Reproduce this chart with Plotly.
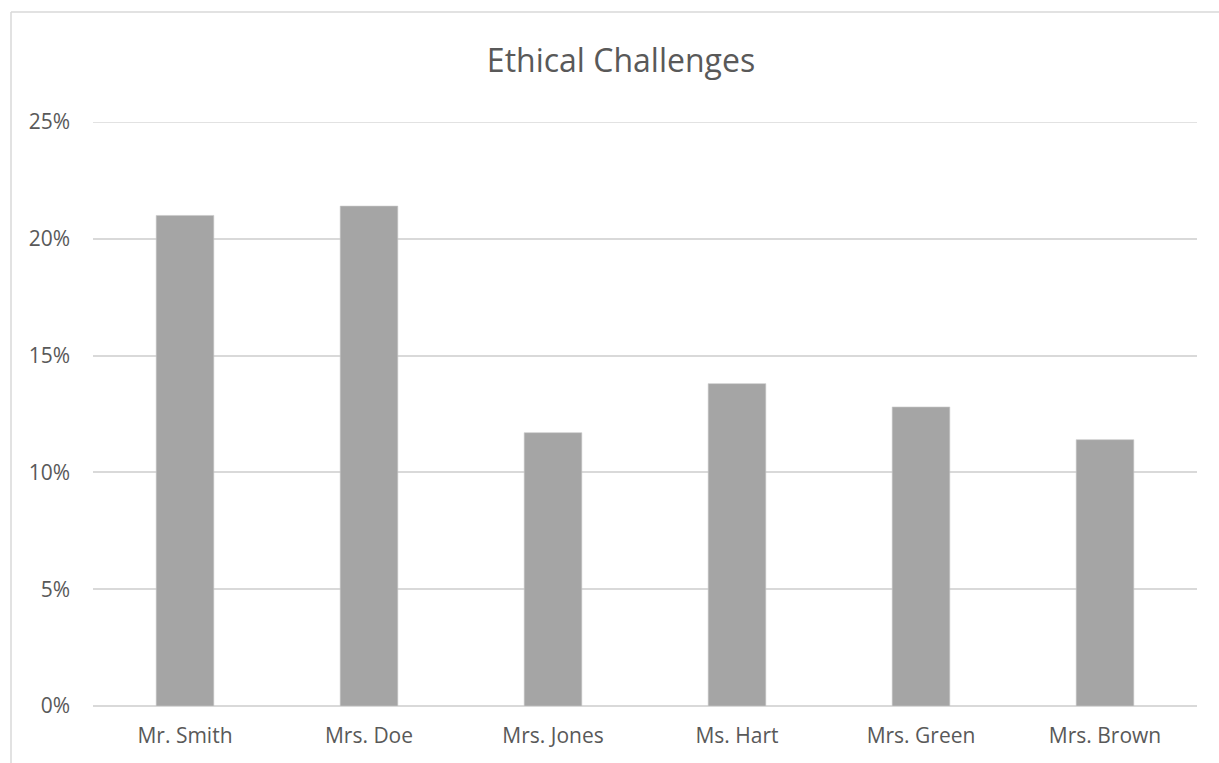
import plotly.graph_objects as go

# Share of ethical challenges reported per teacher
teachers = ["Mr. Smith", "Mrs. Doe", "Mrs. Jones", "Ms. Hart", "Mrs. Green", "Mrs. Brown"]
shares = [0.210, 0.214, 0.117, 0.138, 0.128, 0.114]

y_ticks = [0, 0.05, 0.10, 0.15, 0.20, 0.25]
y_tick_labels = ["0%", "5%", "10%", "15%", "20%", "25%"]

W, H = 1219, 763
L, R, T, B = 93, 22, 122, 57
pw, ph = W - L - R, H - T - B

GRID = "#d9d9d9"
TEXT = "#595959"
FONT = "Open Sans, Liberation Sans, sans-serif"

fig = go.Figure(
    go.Bar(
        x=teachers,
        y=shares,
        width=0.313,
        marker=dict(color="#a5a5a5", line=dict(color="#c8c8c8", width=0.6)),
        hovertemplate="%{x}: %{y:.1%}<extra></extra>",
    )
)

fig.update_layout(
    width=W,
    height=H,
    margin=dict(l=L, r=R, t=T, b=B, pad=0),
    paper_bgcolor="white",
    plot_bgcolor="white",
    showlegend=False,
    font=dict(family=FONT, color=TEXT),
    title=dict(
        text="Ethical Challenges",
        font=dict(family=FONT, size=32, color=TEXT),
        x=621 / W,
        xref="container",
        xanchor="center",
        y=1 - 61 / H,
        yref="container",
        yanchor="middle",
    ),
    xaxis=dict(
        showgrid=False,
        showline=False,
        zeroline=False,
        ticks="",
        tickfont=dict(size=21, color=TEXT),
        ticklabelstandoff=15,
    ),
    yaxis=dict(
        range=[y_ticks[0], y_ticks[-1]],
        tickvals=y_ticks,
        ticktext=y_tick_labels,
        showgrid=True,
        gridcolor=GRID,
        gridwidth=1.5,
        zeroline=True,
        zerolinecolor=GRID,
        zerolinewidth=1.5,
        showline=False,
        ticks="",
        tickfont=dict(size=21, color=TEXT),
        ticklabelstandoff=22,
    ),
)

# Top gridline sits on the plot edge, so draw it explicitly
fig.add_shape(type="line", xref="paper", yref="y",
              x0=0, x1=1, y0=y_ticks[-1], y1=y_ticks[-1],
              line=dict(color=GRID, width=1.5), layer="below")

# Chart frame (left and top edges of the chart area border)
x_left = (11 - L) / pw
y_top = 1 + (T - 12) / ph
y_bottom = -(B + 5) / ph
x_right = 1 + (R + 5) / pw
fig.add_shape(type="line", xref="paper", yref="paper",
              x0=x_left, x1=x_left, y0=y_bottom, y1=y_top,
              line=dict(color=GRID, width=1.5), layer="below")
fig.add_shape(type="line", xref="paper", yref="paper",
              x0=x_left, x1=x_right, y0=y_top, y1=y_top,
              line=dict(color=GRID, width=1.5), layer="below")

fig.write_html("out.html")
